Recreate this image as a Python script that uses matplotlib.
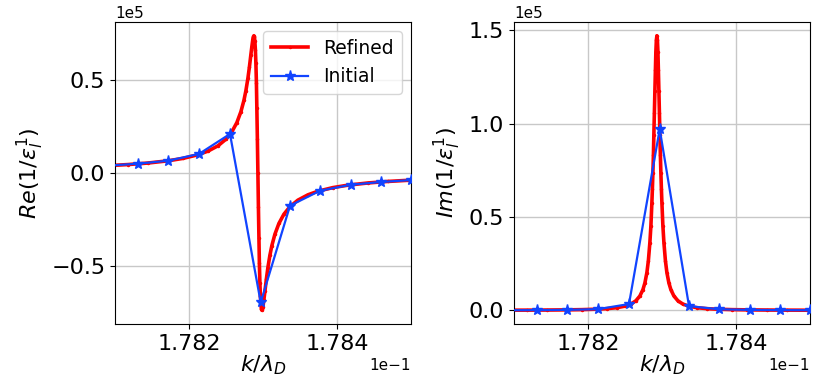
import numpy as np
import matplotlib
matplotlib.use("Agg")
import matplotlib.pyplot as plt

# Refined (dense) data: x in k/lambda_D, y in units of 1e5
k_refined = [0.1780701, 0.1780904, 0.1781174, 0.1781445, 0.1781715, 0.1781918,
             0.1782120, 0.1782255, 0.1782391, 0.1782499, 0.1782580, 0.1782647,
             0.1782701, 0.1782742, 0.1782769, 0.1782796, 0.1782816, 0.1782836,
             0.1782850, 0.1782863, 0.1782870, 0.1782877, 0.1782884, 0.1782890,
             0.1782897, 0.1782904, 0.1782911, 0.1782917, 0.1782924, 0.1782931,
             0.1782938, 0.1782945, 0.1782951, 0.1782958, 0.1782965, 0.1782972,
             0.1782978, 0.1782985, 0.1782992, 0.1782999, 0.1783012, 0.1783026,
             0.1783046, 0.1783066, 0.1783093, 0.1783120, 0.1783161, 0.1783215,
             0.1783282, 0.1783363, 0.1783471, 0.1783607, 0.1783742, 0.1783944,
             0.1784147, 0.1784417, 0.1784688, 0.1784958, 0.1785161]
re_refined = [0.03562, 0.03917, 0.04519, 0.05338, 0.06520, 0.07818,
              0.09757, 0.11685, 0.14554, 0.18092, 0.22092, 0.27020,
              0.32774, 0.38830, 0.44100, 0.50690, 0.56635, 0.63323,
              0.67846, 0.71707, 0.72993, 0.73500, 0.72850, 0.70560,
              0.66067, 0.58800, 0.48329, 0.34588, 0.18092, 0.00000,
              -0.18092, -0.34588, -0.48329, -0.58800, -0.66067, -0.70560,
              -0.72850, -0.73500, -0.72993, -0.71707, -0.67846, -0.63323,
              -0.56635, -0.50690, -0.44100, -0.38830, -0.32774, -0.27020,
              -0.22092, -0.18092, -0.14554, -0.11685, -0.09757, -0.07818,
              -0.06520, -0.05338, -0.04519, -0.03917, -0.03562]
im_refined = [0.000863, 0.001045, 0.001390, 0.001941, 0.002898, 0.004169,
              0.006504, 0.009348, 0.014554, 0.022615, 0.033988, 0.051466,
              0.077115, 0.110943, 0.147000, 0.202759, 0.266516, 0.361846,
              0.452308, 0.573659, 0.648828, 0.735000, 0.832566, 0.940800,
              1.057079, 1.176000, 1.288767, 1.383529, 1.447385, 1.470000,
              1.447385, 1.383529, 1.288767, 1.176000, 1.057079, 0.940800,
              0.832566, 0.735000, 0.648828, 0.573659, 0.452308, 0.361846,
              0.266516, 0.202759, 0.147000, 0.110943, 0.077115, 0.051466,
              0.033988, 0.022615, 0.014554, 0.009348, 0.006504, 0.004169,
              0.002898, 0.001941, 0.001390, 0.001045, 0.000863]

# Initial (coarse) data
k_initial = [0.1780905, 0.1781315, 0.1781720, 0.1782135, 0.1782554, 0.1782969,
             0.1783365, 0.1783770, 0.1784185, 0.1784595, 0.1784996, 0.1785405]
re_initial = [0.0392, 0.050, 0.066, 0.102, 0.209, -0.693,
              -0.175, -0.095, -0.063, -0.048, -0.038, -0.032]
im_initial = [0.0007, 0.0016, 0.0029, 0.0067, 0.034, 0.970,
              0.023, 0.0061, 0.0027, 0.0015, 0.0010, 0.0007]

xticks = [0.1782, 0.1784]
yticks_re = [-0.5, 0.0, 0.5]
yticks_im = [0.0, 0.5, 1.0, 1.5]
SCALE = 1e5

red = '#ff0000'
blue = '#1144ff'

fig = plt.figure(figsize=(8.2, 3.89), dpi=100)
ax1 = fig.add_axes([115/820, 1-324/389, 296/820, 302/389])
ax2 = fig.add_axes([514/820, 1-324/389, 296/820, 302/389])

for ax, yr, yi, yt, lab in [
        (ax1, re_refined, re_initial, yticks_re, r'$Re(1/\epsilon_l^1)$'),
        (ax2, im_refined, im_initial, yticks_im, r'$Im(1/\epsilon_l^1)$')]:
    ax.plot(k_refined, np.array(yr) * SCALE, color=red, marker='.',
            markersize=3, linewidth=2.6, label='Refined', zorder=2)
    ax.plot(k_initial, np.array(yi) * SCALE, color=blue, marker='*',
            markersize=8, linewidth=1.6, label='Initial', zorder=3)
    ax.set_xlim(0.1781, 0.1785)
    ax.set_xticks(xticks)
    ax.set_yticks(np.array(yt) * SCALE)
    ax.ticklabel_format(axis='x', style='sci', scilimits=(-1, -1), useOffset=False)
    ax.ticklabel_format(axis='y', style='sci', scilimits=(5, 5), useOffset=False)
    ax.tick_params(labelsize=16)
    ax.xaxis.get_offset_text().set_fontsize(11)
    ax.yaxis.get_offset_text().set_fontsize(11)
    ax.grid(True, color='#c8c8c8', linewidth=1.0)
    ax.set_axisbelow(True)
    ax.set_xlabel(r'$k/\lambda_D$', fontsize=16, labelpad=0)
    ax.set_ylabel(lab, fontsize=16)

ax1.legend(loc='upper right', fontsize=13.5, handlelength=2.0)

fig.savefig('out.png', dpi=100)
